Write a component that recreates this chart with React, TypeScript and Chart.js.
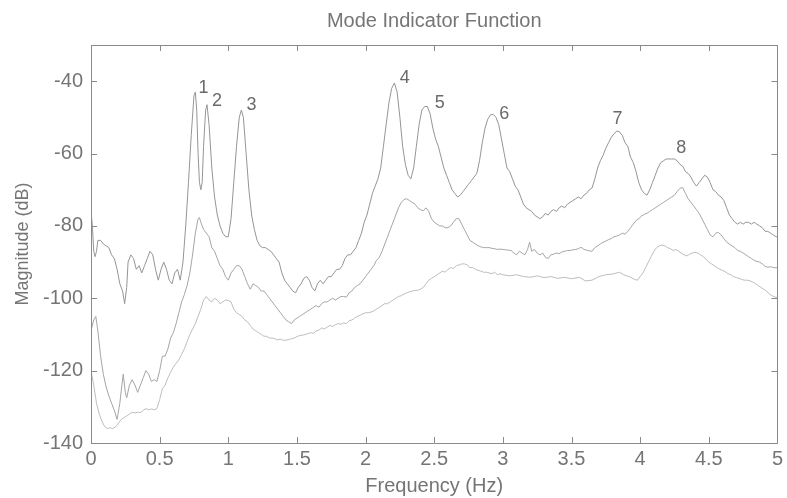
import React, { useEffect, useRef } from "react";
import { Chart, registerables } from "chart.js";

Chart.register(...registerables);

const chartTitle = "Mode Indicator Function";
const xTitle = "Frequency (Hz)";
const yTitle = "Magnitude (dB)";

const freqTop = [0.00,0.01,0.02,0.03,0.04,0.05,0.07,0.09,0.11,0.13,0.15,0.17,0.19,0.21,0.23,0.245,0.26,0.27,0.29,0.31,0.33,0.35,0.37,0.39,0.41,0.43,0.45,0.47,0.49,0.51,0.53,0.55,0.57,0.59,0.61,0.63,0.65,0.67,0.69,0.71,0.73,0.75,0.76,0.77,0.78,0.79,0.80,0.81,0.82,0.835,0.845,0.86,0.88,0.90,0.92,0.94,0.96,0.98,1.00,1.02,1.04,1.06,1.08,1.095,1.11,1.13,1.15,1.17,1.19,1.21,1.23,1.25,1.27,1.29,1.31,1.33,1.35,1.37,1.39,1.41,1.43,1.45,1.47,1.49,1.51,1.53,1.55,1.57,1.59,1.61,1.63,1.65,1.67,1.69,1.71,1.73,1.75,1.77,1.79,1.81,1.83,1.85,1.87,1.89,1.91,1.93,1.95,1.97,1.99,2.01,2.03,2.05,2.07,2.09,2.11,2.13,2.15,2.17,2.19,2.21,2.23,2.25,2.27,2.29,2.31,2.33,2.35,2.37,2.39,2.41,2.43,2.45,2.47,2.49,2.51,2.53,2.55,2.57,2.59,2.61,2.63,2.65,2.67,2.69,2.71,2.73,2.75,2.77,2.79,2.81,2.83,2.85,2.87,2.89,2.91,2.93,2.95,2.97,2.99,3.01,3.03,3.05,3.07,3.09,3.11,3.13,3.15,3.17,3.19,3.21,3.23,3.25,3.27,3.29,3.31,3.33,3.35,3.37,3.39,3.41,3.43,3.45,3.47,3.49,3.51,3.53,3.55,3.57,3.59,3.61,3.63,3.65,3.67,3.69,3.71,3.73,3.75,3.77,3.79,3.81,3.83,3.85,3.87,3.89,3.91,3.93,3.95,3.97,3.99,4.01,4.03,4.05,4.07,4.09,4.11,4.13,4.15,4.17,4.19,4.21,4.23,4.25,4.27,4.29,4.31,4.33,4.35,4.37,4.39,4.41,4.43,4.45,4.47,4.49,4.51,4.53,4.55,4.57,4.59,4.61,4.63,4.65,4.67,4.69,4.71,4.73,4.75,4.77,4.79,4.81,4.83,4.85,4.87,4.89,4.91,4.93,4.95,4.97,4.99,5.00];
const magTop = [-76,-80,-87,-88.5,-87,-84,-84,-85,-85.5,-86,-88,-89,-92,-96,-98,-101.5,-97,-90,-88,-89,-92,-91,-93,-91,-89,-87,-88,-92,-95,-92,-90,-92,-95,-96,-93,-92,-95,-90,-80,-68,-55,-44,-43,-48,-60,-68,-70,-68,-58,-48,-46.5,-52,-64,-72,-77,-80,-82,-83,-83,-78,-68,-58,-50,-48,-50,-60,-70,-77,-81,-84,-85.5,-86,-86,-86.5,-87,-88,-89,-90,-93,-95,-96,-97,-98,-98.5,-97,-96,-94.5,-94,-95,-97,-98,-96,-95,-96,-95,-94,-94,-93,-92,-92,-91,-89,-88,-88,-87,-86,-84,-82,-79,-77,-74,-71,-69,-67,-64,-58,-52,-46,-42,-40.5,-43,-50,-58,-63,-66,-67,-64,-58,-52,-48,-47,-47,-49,-53,-56,-58,-61,-64,-66,-68,-70,-71,-72,-71.5,-70.5,-69.5,-68.5,-67.5,-66.5,-65.5,-62,-57,-53,-50.5,-49.3,-49.2,-50,-52,-56,-60,-64,-65,-67,-69,-70,-72,-74,-75,-75.5,-76,-77,-77.5,-78,-77.5,-76.5,-77,-76,-75.5,-76,-75,-74.5,-75,-74,-73.5,-73,-72.5,-72,-72.5,-71.5,-71,-70,-69.5,-67,-64,-62,-60.5,-58.5,-57,-55.5,-54.5,-53.8,-54,-55,-57,-58,-61,-62.5,-65,-68,-70,-71,-71.5,-70,-68,-66,-64,-62.5,-62,-61.5,-61.5,-61.5,-61.5,-62,-63,-63.5,-65,-65.5,-66.5,-68,-69,-68,-67,-66,-66.5,-68,-70,-70.5,-71.5,-72,-73,-75,-77,-78,-79,-79.5,-79,-79.5,-79,-79,-79.5,-79,-79.5,-80,-80.5,-81.5,-81.5,-82,-82.5,-83,-83];

const freqMid = [0.00,0.02,0.035,0.05,0.07,0.09,0.11,0.13,0.15,0.17,0.19,0.21,0.225,0.235,0.25,0.26,0.28,0.30,0.32,0.34,0.36,0.38,0.40,0.42,0.44,0.46,0.48,0.50,0.52,0.54,0.56,0.58,0.60,0.62,0.64,0.66,0.68,0.70,0.72,0.74,0.76,0.78,0.79,0.80,0.82,0.84,0.86,0.88,0.90,0.92,0.94,0.96,0.98,1.00,1.02,1.04,1.06,1.08,1.10,1.12,1.14,1.16,1.18,1.20,1.22,1.24,1.26,1.28,1.30,1.32,1.34,1.36,1.38,1.40,1.42,1.44,1.46,1.48,1.50,1.52,1.54,1.56,1.58,1.60,1.62,1.64,1.66,1.68,1.70,1.72,1.74,1.76,1.78,1.80,1.82,1.84,1.86,1.88,1.90,1.92,1.94,1.96,1.98,2.00,2.02,2.04,2.06,2.08,2.10,2.12,2.14,2.16,2.18,2.20,2.22,2.24,2.26,2.28,2.30,2.32,2.34,2.36,2.38,2.40,2.42,2.44,2.46,2.48,2.50,2.52,2.54,2.56,2.58,2.60,2.62,2.64,2.66,2.68,2.70,2.72,2.74,2.76,2.78,2.80,2.82,2.84,2.86,2.88,2.90,2.92,2.94,2.96,2.98,3.00,3.02,3.04,3.06,3.08,3.10,3.12,3.14,3.16,3.18,3.195,3.21,3.23,3.25,3.27,3.29,3.31,3.33,3.35,3.37,3.39,3.41,3.43,3.45,3.47,3.49,3.51,3.53,3.55,3.57,3.59,3.61,3.63,3.65,3.67,3.69,3.71,3.73,3.75,3.77,3.79,3.81,3.83,3.85,3.87,3.89,3.91,3.93,3.95,3.97,3.99,4.01,4.03,4.05,4.07,4.09,4.11,4.13,4.15,4.17,4.19,4.21,4.23,4.25,4.27,4.29,4.31,4.33,4.35,4.37,4.39,4.41,4.43,4.45,4.47,4.49,4.51,4.53,4.55,4.57,4.59,4.61,4.63,4.65,4.67,4.69,4.71,4.73,4.75,4.77,4.79,4.81,4.83,4.85,4.87,4.89,4.91,4.93,4.95,4.97,4.99,5.00];
const magMid = [-109,-106,-105,-109,-116,-121,-124.5,-127,-129,-131,-133.5,-129,-124,-121,-126,-127.5,-124,-122.5,-124,-126,-124,-122,-120,-121,-123,-122.5,-123,-120,-116,-116,-114,-111,-109.5,-107,-104,-101,-99,-96.5,-93,-88,-82,-78,-77.7,-79,-81,-82,-83,-86,-87,-89,-91,-92,-94,-95,-93,-92,-91,-91,-92,-94,-96,-97.5,-96,-96.5,-97,-98,-98,-99,-100,-101,-102,-103,-104,-105,-106,-106.5,-107,-106,-105.5,-105,-104.5,-104,-103.5,-103,-102.5,-102,-102.5,-101.5,-101,-101,-100.5,-100,-100.5,-100,-99.5,-99.5,-99.7,-98.5,-98,-97,-96.5,-96,-95,-94,-93,-92,-91,-89.5,-88.7,-87,-85,-83,-81,-79,-77,-75,-73.5,-72.7,-72.5,-73,-73.5,-74,-75,-75.5,-75.8,-75,-76,-78,-79,-79.5,-80,-80,-80.5,-80.5,-80,-79,-78,-78,-79.5,-81,-82.5,-84,-84.5,-85,-85.5,-85.8,-86,-86,-86,-86.2,-86.3,-86.5,-86.4,-86.5,-86.6,-86.7,-86.8,-87.5,-88,-87,-87.5,-88,-86.5,-84.5,-87,-86.5,-87.5,-88,-87.5,-88.7,-89,-88,-87.8,-87.5,-87.7,-87.2,-87,-86.8,-86.8,-86.6,-86.5,-86.3,-85.9,-86.5,-86.7,-86.9,-87,-86,-85.5,-85,-84.5,-84.2,-83.8,-83.5,-83,-82.8,-82.5,-82,-82.3,-81.5,-80.5,-79.5,-78.5,-78,-77.3,-76.8,-76.5,-76,-75.5,-75,-74.5,-74,-73.5,-73,-72.5,-72,-71.5,-70.5,-69.6,-69.4,-71,-72.5,-73.5,-74.5,-75.5,-76.5,-78,-79.5,-81,-82.5,-83,-82,-81.8,-82.5,-83.5,-84.5,-85,-85.5,-86,-86.8,-87,-87.5,-88,-88.5,-89,-89.5,-89.8,-90,-90.5,-91.2,-91.4,-91.3,-91.5,-91.6,-91.5];

const freqLow = [0.00,0.02,0.04,0.06,0.08,0.10,0.12,0.14,0.16,0.18,0.20,0.22,0.24,0.26,0.28,0.30,0.32,0.34,0.36,0.38,0.40,0.42,0.44,0.46,0.48,0.50,0.52,0.54,0.56,0.58,0.60,0.62,0.64,0.66,0.68,0.70,0.72,0.74,0.76,0.78,0.80,0.82,0.84,0.86,0.88,0.90,0.92,0.94,0.96,0.98,1.00,1.02,1.04,1.06,1.08,1.10,1.12,1.14,1.16,1.18,1.20,1.22,1.24,1.26,1.28,1.30,1.32,1.34,1.36,1.38,1.40,1.42,1.44,1.46,1.48,1.50,1.52,1.54,1.56,1.58,1.60,1.62,1.64,1.66,1.68,1.70,1.72,1.74,1.76,1.78,1.80,1.82,1.84,1.86,1.88,1.90,1.92,1.94,1.96,1.98,2.00,2.02,2.04,2.06,2.08,2.10,2.12,2.14,2.16,2.18,2.20,2.22,2.24,2.26,2.28,2.30,2.32,2.34,2.36,2.38,2.40,2.42,2.44,2.46,2.48,2.50,2.52,2.54,2.56,2.58,2.60,2.62,2.64,2.66,2.68,2.70,2.72,2.74,2.76,2.78,2.80,2.82,2.84,2.86,2.88,2.90,2.92,2.94,2.96,2.98,3.00,3.05,3.10,3.15,3.20,3.25,3.30,3.35,3.40,3.45,3.50,3.56,3.60,3.65,3.70,3.75,3.80,3.85,3.88,3.92,3.96,3.98,4.00,4.02,4.04,4.06,4.08,4.10,4.12,4.14,4.16,4.18,4.20,4.22,4.24,4.26,4.28,4.30,4.32,4.34,4.36,4.38,4.40,4.42,4.44,4.46,4.48,4.50,4.52,4.54,4.56,4.58,4.60,4.62,4.64,4.66,4.68,4.70,4.72,4.74,4.76,4.78,4.80,4.82,4.84,4.86,4.88,4.90,4.92,4.94,4.96,4.98,5.00];
const magLow = [-120,-124,-129,-132,-134,-135.5,-136,-135.8,-136,-135.5,-134.5,-133.5,-133,-132.5,-132,-131.5,-131.7,-131.5,-131.6,-131,-130.5,-130.8,-130.6,-130.8,-130.5,-128,-125,-124,-122,-120.5,-119,-118,-117,-115.5,-114,-112,-110,-108.5,-107,-105,-103,-100.5,-99.5,-100.5,-101,-100,-100.5,-101.5,-101,-100.5,-100.6,-101,-103,-104,-104.5,-105,-106,-106.5,-107.5,-108.5,-109,-109.5,-110,-110.5,-110.5,-111,-111,-111.2,-111.5,-111.3,-111.6,-111.6,-111.4,-111.2,-111,-110.6,-110.3,-110.2,-110,-109.8,-109.5,-109.7,-109,-108.8,-108.2,-108.5,-108,-107.5,-107.8,-107.3,-107,-107.2,-106.8,-107,-106.2,-106,-105.5,-105,-104.7,-104.3,-104,-104,-103.8,-103.5,-103,-102.5,-102,-101.5,-101.5,-101,-100.5,-100,-99.5,-99.3,-98.8,-98.5,-98.2,-98,-97.8,-97.8,-97.5,-97,-96,-95,-94.5,-94,-93.5,-93,-92.5,-92.8,-92,-91.5,-91.8,-91,-90.8,-90.5,-90.5,-90.8,-91.5,-91.5,-92,-92.3,-92.5,-92.8,-92.8,-93,-93.2,-92.8,-93.5,-93.2,-93.5,-93.8,-93.5,-94,-94.2,-93.8,-94.3,-94,-94.5,-94.2,-94.6,-94.2,-95.2,-95,-94,-93.5,-93.3,-92.8,-93.5,-94,-94.8,-95,-94,-93,-91.5,-90,-88.5,-87,-86,-85.5,-85.3,-85.5,-86,-86.3,-86.8,-86.5,-87,-87.5,-88,-88.3,-87.8,-87.5,-87.3,-87.5,-88,-88.5,-89.2,-90,-90.5,-91,-91.5,-92,-92.3,-92.7,-93.2,-93.5,-94,-94.3,-94.5,-94.8,-95,-95,-95.2,-95.5,-96,-96.5,-97,-97.5,-98,-98.8,-99.3,-99.6,-99.8];

const peakLabels = ["1", "2", "3", "4", "5", "6", "7", "8"];
const peakLabelFreq = [0.82, 0.917, 1.17, 2.285, 2.54, 3.01, 3.835, 4.30];
const peakLabelMag = [-41.9, -45.5, -46.6, -39.2, -46, -49, -50.5, -58.5];

const xTicks = [0, 0.5, 1, 1.5, 2, 2.5, 3, 3.5, 4, 4.5, 5];
const yTicks = [-140, -120, -100, -80, -60, -40];

const TEXT = "#757575";
const AXIS = "#8a8a8a";
const FONT = "'Liberation Sans', Arial, sans-serif";

function pts(fs: number[], ms: number[]) {
  return fs.map((f, i) => ({ x: f, y: ms[i] }));
}

const framePlugin = {
  id: "frameTicks",
  afterDatasetsDraw(chart: any) {
    const { ctx, chartArea: a, scales } = chart;
    const xs = scales.x;
    const ys = scales.y;
    ctx.save();
    ctx.strokeStyle = AXIS;
    ctx.lineWidth = 1;
    ctx.beginPath();
    ctx.rect(Math.round(a.left) + 0.5, Math.round(a.top) + 0.5, Math.round(a.right - a.left), Math.round(a.bottom - a.top));
    ctx.stroke();
    const tl = 6;
    ctx.beginPath();
    xTicks.forEach((t) => {
      const px = Math.round(xs.getPixelForValue(t)) + 0.5;
      ctx.moveTo(px, a.bottom);
      ctx.lineTo(px, a.bottom - tl);
      ctx.moveTo(px, a.top);
      ctx.lineTo(px, a.top + tl);
    });
    yTicks.forEach((t) => {
      const py = Math.round(ys.getPixelForValue(t)) + 0.5;
      ctx.moveTo(a.left, py);
      ctx.lineTo(a.left + tl, py);
      ctx.moveTo(a.right, py);
      ctx.lineTo(a.right - tl, py);
    });
    ctx.stroke();
    ctx.fillStyle = "#6a6a6a";
    ctx.font = `18px ${FONT}`;
    ctx.textAlign = "center";
    ctx.textBaseline = "middle";
    peakLabels.forEach((lab, i) => {
      ctx.fillText(lab, xs.getPixelForValue(peakLabelFreq[i]), ys.getPixelForValue(peakLabelMag[i]));
    });
    ctx.fillStyle = TEXT;
    ctx.font = `20px ${FONT}`;
    ctx.fillText(chartTitle, (a.left + a.right) / 2, 21);
    ctx.restore();
  },
};

export default function App() {
  const ref = useRef<HTMLCanvasElement | null>(null);
  useEffect(() => {
    if (!ref.current) return;
    const chart = new Chart(ref.current, {
      type: "scatter",
      data: {
        datasets: [
          { data: pts(freqLow, magLow), borderColor: "#bdbdbd", borderWidth: 1, showLine: true, pointRadius: 0, tension: 0 },
          { data: pts(freqMid, magMid), borderColor: "#a5a5a5", borderWidth: 1, showLine: true, pointRadius: 0, tension: 0 },
          { data: pts(freqTop, magTop), borderColor: "#959595", borderWidth: 1, showLine: true, pointRadius: 0, tension: 0 },
        ],
      },
      options: {
        animation: false,
        responsive: true,
        maintainAspectRatio: false,
        layout: { padding: { top: 45, right: 9, left: 12, bottom: 0 } },
        plugins: {
          legend: { display: false },
          tooltip: { enabled: false },
          title: { display: false },
        },
        scales: {
          x: {
            type: "linear",
            min: 0,
            max: 5,
            afterFit: (s: any) => { s.height = 55; },
            afterBuildTicks: (s: any) => { s.ticks = xTicks.map((v) => ({ value: v })); },
            ticks: { color: TEXT, font: { family: FONT, size: 20 }, padding: 4, maxRotation: 0, autoSkip: false, callback: (v: any) => String(v) },
            grid: { display: false, drawTicks: false },
            border: { display: false },
            title: { display: true, text: xTitle, color: TEXT, font: { family: FONT, size: 20 }, padding: { top: 0, bottom: 0 } },
          },
          y: {
            type: "linear",
            min: -140,
            max: -30,
            afterFit: (s: any) => { s.width = 79; },
            afterBuildTicks: (s: any) => { s.ticks = yTicks.map((v) => ({ value: v })); },
            ticks: { color: TEXT, font: { family: FONT, size: 20 }, padding: 8, autoSkip: false },
            grid: { display: false, drawTicks: false },
            border: { display: false },
            title: { display: true, text: yTitle, color: TEXT, font: { family: FONT, size: 18 }, padding: { top: 0, bottom: 0 } },
          },
        },
      },
      plugins: [framePlugin],
    } as any);
    return () => chart.destroy();
  }, []);
  return (
    <div style={{ position: "absolute", left: 0, top: 0, width: 787, height: 498, background: "#fff" }}>
      <canvas ref={ref} />
    </div>
  );
}
